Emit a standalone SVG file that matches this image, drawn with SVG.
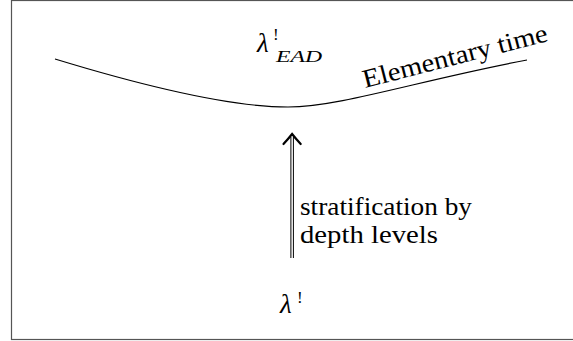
<svg xmlns="http://www.w3.org/2000/svg" width="573" height="341" viewBox="0 0 573 341">
<style>
text{fill:#000;font-family:"Liberation Serif","DejaVu Serif",serif}
.ln{fill:none;stroke:#000;stroke-width:1.2}
</style>
<rect x="0" y="0" width="573" height="341" fill="#fff"/>
<rect x="11.5" y="0.5" width="570" height="339" fill="none" stroke="#555" stroke-width="1.2"/>
<g id="curve">
<path class="ln" d="M55,59 C150,88 230,107 288,107 C340,107 420,80 527,60"/>
<text font-size="26" transform="translate(365,88) rotate(-14.4)" textLength="190" lengthAdjust="spacingAndGlyphs">Elementary time</text>
</g>
<g id="lambda-ead">
<text x="257" y="52" font-size="27" font-style="italic">λ</text>
<text x="273" y="40" font-size="17">!</text>
<text x="276" y="62" font-size="17" font-style="italic" textLength="46" lengthAdjust="spacingAndGlyphs">EAD</text>
</g>
<g id="lambda">
<text x="280" y="313" font-size="27" font-style="italic">λ</text>
<text x="297" y="303" font-size="17">!</text>
</g>
<g id="connectors">
<line x1="290.9" y1="258" x2="290.9" y2="137" stroke="#000" stroke-width="1"/>
<line x1="293.4" y1="258" x2="293.4" y2="137" stroke="#000" stroke-width="1"/>
<path d="M283.5,144 Q289,138 292.1,134 Q295.2,138 300.7,144" fill="none" stroke="#000" stroke-width="2.2" stroke-linecap="round"/>
<text font-size="26" x="300" y="215" textLength="172" lengthAdjust="spacingAndGlyphs">stratification by</text>
<text font-size="26" x="300" y="242.5" textLength="138" lengthAdjust="spacingAndGlyphs">depth levels</text>
</g>
</svg>
